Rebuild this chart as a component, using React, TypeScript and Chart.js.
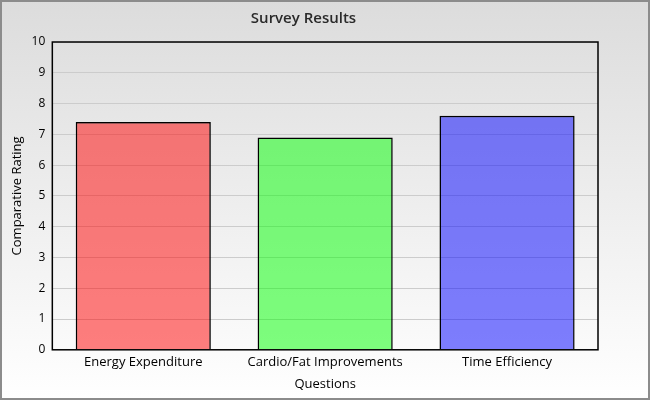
import React, { useEffect, useRef } from "react";
import { Chart, registerables } from "chart.js";

Chart.register(...registerables);

const categories = ["Energy Expenditure", "Cardio/Fat Improvements", "Time Efficiency"];
const ratings = [7.4, 6.9, 7.6];
const barColors = ["rgba(255,0,0,0.5)", "rgba(0,255,0,0.5)", "rgba(0,0,255,0.5)"];
const chartTitle = "Survey Results";
const xTitle = "Questions";
const yTitle = "Comparative Rating";

const bgPlugin = {
  id: "bgPlugin",
  beforeDraw(chart: any) {
    const { ctx, width, height } = chart;
    ctx.save();
    const g = ctx.createLinearGradient(0, 0, 0, height);
    g.addColorStop(0, "#dcdcdc");
    g.addColorStop(1, "#ffffff");
    ctx.fillStyle = g;
    ctx.fillRect(0, 0, width, height);
    ctx.strokeStyle = "#8c8c8c";
    ctx.lineWidth = 2;
    ctx.strokeRect(1, 1, width - 2, height - 2);
    ctx.restore();
  },
  afterDraw(chart: any) {
    const { ctx, chartArea } = chart;
    ctx.save();
    ctx.strokeStyle = "#000";
    ctx.lineWidth = 1.5;
    ctx.strokeRect(chartArea.left, chartArea.top, chartArea.right - chartArea.left, chartArea.bottom - chartArea.top);
    ctx.restore();
  },
};

export default function App() {
  const ref = useRef<HTMLCanvasElement>(null);
  useEffect(() => {
    document.body.style.margin = "0";
    const chart = new Chart(ref.current!, {
      type: "bar",
      data: {
        labels: categories,
        datasets: [
          {
            data: ratings,
            backgroundColor: barColors,
            borderColor: "#000",
            borderWidth: 1.5,
            barPercentage: 0.743,
            categoryPercentage: 1,
          },
        ],
      },
      options: {
        responsive: false,
        animation: false,
        devicePixelRatio: 1,
        layout: { padding: { left: 9, right: 52, top: 0, bottom: 8 } },
        plugins: {
          legend: { display: false },
          tooltip: { enabled: false },
          title: {
            display: true,
            text: chartTitle,
            color: "#2a2a2a",
            font: { family: "Open Sans", size: 15, weight: 600 },
            padding: { top: 10, bottom: 14 },
          },
        },
        scales: {
          x: {
            grid: { display: false, drawTicks: false },
            border: { display: false },
            ticks: { color: "#000", font: { family: "Open Sans", size: 13 }, padding: 5 },
            title: { display: true, text: xTitle, color: "#000", font: { family: "Open Sans", size: 13 }, padding: { top: 1, bottom: 0 } },
          },
          y: {
            min: 0,
            max: 10,
            grid: { color: "#cccccc", drawTicks: false },
            border: { display: false },
            ticks: { stepSize: 1, color: "#000", font: { family: "Open Sans", size: 12 }, padding: 7 },
            title: { display: true, text: yTitle, color: "#000", font: { family: "Open Sans", size: 13 }, padding: { top: 0, bottom: 0 } },
          },
        },
      },
      plugins: [bgPlugin],
    });
    return () => chart.destroy();
  }, []);
  return <canvas ref={ref} width={650} height={400} style={{ display: "block" }} />;
}
